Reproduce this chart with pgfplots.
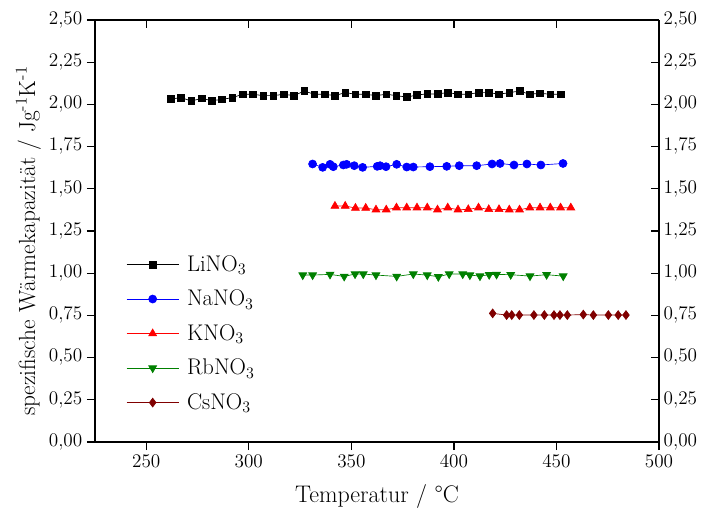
\documentclass[border=0pt]{standalone}
\usepackage{pgfplots}
\pgfplotsset{compat=1.18}
\definecolor{cgreen}{RGB}{0,128,0}
\definecolor{cdred}{RGB}{128,0,0}
\begin{document}
\begin{tikzpicture}
\useasboundingbox (-71.25pt,-51.75pt) rectangle (454.5pt,331.5pt);
\pgfplotsset{
  common/.style={
    scale only axis, width=423pt, height=316.5pt,
    at={(0pt,0pt)}, anchor=south west,
    xmin=225, xmax=500, ymin=0, ymax=2.5,
    xtick={250,300,350,400,450,500},
    ytick={0,0.25,0.5,0.75,1,1.25,1.5,1.75,2,2.25,2.5},
    axis line style={line width=0.9pt},
    major tick style={line width=0.9pt, black},
    major tick length=6pt,
    minor tick num=0,
    tick label style={font=\fontsize{14}{16}\selectfont},
    yticklabel style={/pgf/number format/.cd,fixed,fixed zerofill,precision=2,use comma},
  }
}
\begin{axis}[common,
  axis x line*=top, axis y line*=right, tick align=inside,
  xticklabels={},
]
\end{axis}
\begin{axis}[common,
  axis x line*=bottom, axis y line*=left, tick align=outside,
  xlabel={Temperatur / °C},
  ylabel={spezifische Wärmekapazität / Jg\textsuperscript{-1}K\textsuperscript{-1}},
  xlabel style={font=\fontsize{18}{21}\selectfont, at={(axis description cs:0.5,-0.1295)}, anchor=center},
  ylabel style={font=\fontsize{17.5}{21}\selectfont, at={(axis description cs:-0.1182,0.476)}, anchor=center},
  legend style={draw=none, fill=none, font=\fontsize{17}{20}\selectfont,
    at={(axis description cs:0.048,0.257)}, anchor=west, row sep=8.5pt, column sep=4pt},
  legend cell align=left,
  legend image code/.code={\draw[mark repeat=2,mark phase=2,#1] plot coordinates {(0pt,0pt) (19.5pt,0pt) (39pt,0pt)};},
]
\addplot[black, line width=0.5pt, mark=square*, mark size=2.5pt] coordinates {
(262,2.032) (267,2.040) (272,2.020) (277,2.036) (282,2.022) (287,2.030) (292,2.040)
(297,2.060) (302,2.060) (307,2.052) (312,2.052) (317,2.060) (322,2.052) (327,2.079)
(332,2.060) (337,2.060) (342,2.052) (347,2.070) (352,2.060) (357,2.060) (362,2.052)
(367,2.060) (372,2.052) (377,2.043) (382,2.056) (387,2.062) (392,2.062) (397,2.070)
(402,2.060) (407,2.060) (412,2.070) (417,2.070) (422,2.060) (427,2.070) (432,2.079)
(437,2.060) (442,2.066) (447,2.060) (452,2.060)
};
\addlegendentry{LiNO$_3$}
\addplot[blue, line width=0.5pt, mark=*, mark size=3pt] coordinates {
(331.1,1.647) (336.0,1.627) (339.6,1.645) (341.2,1.631) (346.1,1.641) (347.7,1.645)
(351.4,1.637) (355.5,1.627) (362.6,1.633) (364.0,1.637) (366.9,1.631) (372.1,1.645)
(377.0,1.629) (380.2,1.629) (388.3,1.631) (396.5,1.633) (402.6,1.637) (411.1,1.637)
(418.6,1.647) (422.5,1.650) (429.3,1.641) (435.6,1.647) (442.4,1.641) (453.2,1.650)
};
\addlegendentry{NaNO$_3$}
\addplot[red, line width=0.5pt, mark=triangle*, mark size=3.4pt] coordinates {
(342,1.398) (347,1.398) (352,1.386) (357,1.386) (362,1.376) (367,1.376) (372,1.388)
(377,1.388) (382,1.388) (387,1.388) (392,1.376) (397,1.388) (402,1.376) (407,1.378)
(412,1.388) (417,1.378) (422,1.378) (427,1.376) (432,1.376) (437,1.388) (442,1.388)
(447,1.388) (452,1.388) (457,1.388)
};
\addlegendentry{KNO$_3$}
\addplot[cgreen, line width=0.5pt, mark=triangle*, mark size=3.4pt, mark options={rotate=180}] coordinates {
(326.3,0.989) (331.1,0.989) (339.6,0.993) (346.5,0.981) (351.8,0.995) (355.8,0.995)
(362.0,0.989) (372.1,0.981) (380.2,0.995) (387.0,0.989) (392.4,0.979) (397.7,0.995)
(404.3,0.995) (407.8,0.989) (412.7,0.983) (417.2,0.991) (420.8,0.993) (427.7,0.991)
(437.1,0.983) (445.2,0.991) (453.3,0.983)
};
\addlegendentry{RbNO$_3$}
\addplot[cdred, line width=0.5pt, mark=diamond*, mark size=3.3pt] coordinates {
(418.9,0.762) (425.7,0.752) (428.2,0.752) (431.9,0.752) (439.0,0.752) (444.1,0.752)
(448.8,0.752) (451.7,0.752) (455.3,0.752) (463.1,0.755) (468.0,0.752) (475.3,0.752)
(480.1,0.752) (483.9,0.752)
};
\addlegendentry{CsNO$_3$}
\end{axis}
\end{tikzpicture}
\end{document}
